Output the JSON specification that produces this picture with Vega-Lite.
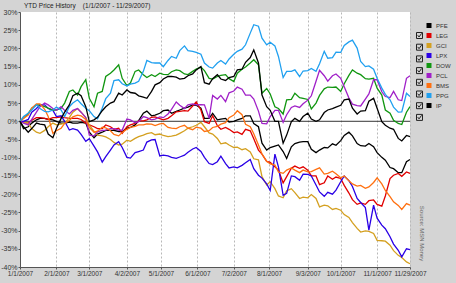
{
  "$schema": "https://vega.github.io/schema/vega-lite/v6.json",
  "width": 390,
  "height": 255,
  "autosize": {"type": "none"},
  "padding": {"left": 20, "top": 12, "right": 46, "bottom": 16},
  "background": "#d4d4d4",
  "config": {"view": {"fill": "white", "stroke": null}, "font": "Liberation Sans"},
  "title": {"text": "YTD Price History\u00a0\u00a0\u00a0\u00a0(1/1/2007 - 11/29/2007)", "anchor": "start", "frame": "group", "fontSize": 6.5, "fontWeight": "normal", "color": "#222222", "offset": 3, "dx": 4, "dy": 4},
  "datasets": {
    "prices": [
      {"date": "2007/01/01", "PFE": 0, "LEG": 0, "GCI": 0, "LPX": 0, "DOW": 0, "PCL": 0, "BMS": 0, "PPG": 0, "IP": 0},
      {"date": "2007/01/04", "PFE": -2.0, "LEG": -0.3, "GCI": -0.3, "LPX": 0.0, "DOW": 0.8, "PCL": -0.5, "BMS": 0.8, "PPG": 1.3, "IP": -1.5},
      {"date": "2007/01/08", "PFE": -1.5, "LEG": -0.5, "GCI": -0.5, "LPX": 0.5, "DOW": 2.2, "PCL": -1.0, "BMS": 1.7, "PPG": 2.2, "IP": -3.0},
      {"date": "2007/01/11", "PFE": -0.5, "LEG": 0.3, "GCI": -2.0, "LPX": 2.5, "DOW": 3.6, "PCL": 0.5, "BMS": 3.6, "PPG": 3.1, "IP": -2.0},
      {"date": "2007/01/15", "PFE": 0.4, "LEG": 1.0, "GCI": -3.0, "LPX": 3.5, "DOW": 4.5, "PCL": 2.5, "BMS": 4.8, "PPG": 4.5, "IP": -0.5},
      {"date": "2007/01/18", "PFE": 0.8, "LEG": 1.0, "GCI": -3.3, "LPX": 4.5, "DOW": 4.5, "PCL": 4.0, "BMS": 4.8, "PPG": 3.5, "IP": -0.8},
      {"date": "2007/01/22", "PFE": 0.8, "LEG": 0.8, "GCI": -2.5, "LPX": 4.5, "DOW": 4.0, "PCL": 5.0, "BMS": 3.3, "PPG": 2.7, "IP": -1.0},
      {"date": "2007/01/25", "PFE": 0.5, "LEG": 0.5, "GCI": -1.5, "LPX": 3.5, "DOW": 3.6, "PCL": 4.5, "BMS": 1.3, "PPG": 2.6, "IP": -3.5},
      {"date": "2007/01/29", "PFE": 0.4, "LEG": 1.0, "GCI": -0.5, "LPX": 3.0, "DOW": 3.1, "PCL": 3.5, "BMS": -3.3, "PPG": 3.1, "IP": -4.5},
      {"date": "2007/02/01", "PFE": 0.0, "LEG": 1.0, "GCI": -1.0, "LPX": 1.3, "DOW": 3.1, "PCL": 3.0, "BMS": -2.6, "PPG": 3.9, "IP": -2.0},
      {"date": "2007/02/05", "PFE": -0.5, "LEG": 1.2, "GCI": -0.8, "LPX": 1.5, "DOW": 3.6, "PCL": 4.0, "BMS": -1.9, "PPG": 3.1, "IP": 0.8},
      {"date": "2007/02/08", "PFE": -0.5, "LEG": 1.0, "GCI": -0.5, "LPX": 0.0, "DOW": 5.0, "PCL": 3.0, "BMS": -0.6, "PPG": 1.3, "IP": 2.5},
      {"date": "2007/02/12", "PFE": -0.2, "LEG": 0.8, "GCI": 1.0, "LPX": -2.4, "DOW": 8.2, "PCL": 2.0, "BMS": 0.2, "PPG": 4.0, "IP": 4.5},
      {"date": "2007/02/15", "PFE": -0.5, "LEG": 0.8, "GCI": 2.5, "LPX": -2.0, "DOW": 8.6, "PCL": 3.0, "BMS": 1.2, "PPG": 5.0, "IP": 7.0},
      {"date": "2007/02/19", "PFE": -0.5, "LEG": 0.8, "GCI": 3.5, "LPX": -2.4, "DOW": 7.2, "PCL": 3.5, "BMS": 1.7, "PPG": 5.9, "IP": 7.7},
      {"date": "2007/02/22", "PFE": -0.3, "LEG": 0.5, "GCI": 2.5, "LPX": -3.6, "DOW": 9.5, "PCL": 2.5, "BMS": 1.5, "PPG": 4.8, "IP": 7.0},
      {"date": "2007/02/26", "PFE": -0.5, "LEG": -0.5, "GCI": 1.0, "LPX": -5.5, "DOW": 11.4, "PCL": 1.0, "BMS": 0.5, "PPG": 3.6, "IP": 4.0},
      {"date": "2007/03/01", "PFE": -3.0, "LEG": -1.0, "GCI": -1.0, "LPX": -4.8, "DOW": 6.3, "PCL": -3.8, "BMS": -1.7, "PPG": 2.9, "IP": -0.1},
      {"date": "2007/03/05", "PFE": -4.5, "LEG": -1.5, "GCI": -2.8, "LPX": -6.8, "DOW": 4.0, "PCL": -4.0, "BMS": -3.0, "PPG": 1.3, "IP": 0.4},
      {"date": "2007/03/08", "PFE": -3.5, "LEG": -2.0, "GCI": -3.8, "LPX": -8.4, "DOW": 7.7, "PCL": -2.9, "BMS": -2.7, "PPG": 0.7, "IP": 1.1},
      {"date": "2007/03/12", "PFE": -3.0, "LEG": -2.0, "GCI": -4.0, "LPX": -11.2, "DOW": 8.2, "PCL": -2.5, "BMS": -1.6, "PPG": 3.6, "IP": 2.9},
      {"date": "2007/03/15", "PFE": -2.5, "LEG": -1.0, "GCI": -4.3, "LPX": -9.7, "DOW": 12.3, "PCL": -2.4, "BMS": -1.8, "PPG": 6.2, "IP": 4.0},
      {"date": "2007/03/19", "PFE": -2.5, "LEG": -1.5, "GCI": -5.0, "LPX": -7.9, "DOW": 13.2, "PCL": -2.0, "BMS": -2.6, "PPG": 7.7, "IP": 5.0},
      {"date": "2007/03/22", "PFE": -2.5, "LEG": -2.2, "GCI": -5.8, "LPX": -6.5, "DOW": 14.1, "PCL": -2.0, "BMS": -3.6, "PPG": 11.2, "IP": 5.4},
      {"date": "2007/03/26", "PFE": -2.8, "LEG": -1.9, "GCI": -6.5, "LPX": -5.6, "DOW": 15.5, "PCL": -2.4, "BMS": -4.0, "PPG": 11.4, "IP": 7.7},
      {"date": "2007/03/29", "PFE": -2.8, "LEG": -3.3, "GCI": -6.3, "LPX": -7.2, "DOW": 11.8, "PCL": -2.4, "BMS": -3.1, "PPG": 10.3, "IP": 7.2},
      {"date": "2007/04/02", "PFE": -1.9, "LEG": -1.5, "GCI": -5.2, "LPX": -9.9, "DOW": 9.8, "PCL": 0.6, "BMS": -2.2, "PPG": 9.7, "IP": 8.6},
      {"date": "2007/04/05", "PFE": -1.7, "LEG": -1.0, "GCI": -5.5, "LPX": -10.1, "DOW": 10.5, "PCL": 0.4, "BMS": -1.7, "PPG": 10.2, "IP": 7.9},
      {"date": "2007/04/09", "PFE": -1.0, "LEG": -0.6, "GCI": -4.7, "LPX": -8.6, "DOW": 13.7, "PCL": -0.4, "BMS": -1.4, "PPG": 10.5, "IP": 7.7},
      {"date": "2007/04/12", "PFE": 0.2, "LEG": 0.1, "GCI": -4.2, "LPX": -8.3, "DOW": 14.1, "PCL": -0.1, "BMS": -1.0, "PPG": 11.0, "IP": 7.0},
      {"date": "2007/04/16", "PFE": 2.2, "LEG": 0.1, "GCI": -3.8, "LPX": -7.9, "DOW": 12.8, "PCL": 1.3, "BMS": -1.0, "PPG": 13.7, "IP": 6.6},
      {"date": "2007/04/19", "PFE": 2.8, "LEG": 0.4, "GCI": -3.4, "LPX": -5.7, "DOW": 12.0, "PCL": 1.0, "BMS": -0.7, "PPG": 16.7, "IP": 6.3},
      {"date": "2007/04/23", "PFE": 1.5, "LEG": 1.1, "GCI": -3.1, "LPX": -5.1, "DOW": 12.8, "PCL": 0.4, "BMS": -0.8, "PPG": 16.1, "IP": 8.2},
      {"date": "2007/04/26", "PFE": 1.7, "LEG": 1.2, "GCI": -3.7, "LPX": -5.0, "DOW": 12.3, "PCL": 0.6, "BMS": -1.2, "PPG": 16.0, "IP": 10.0},
      {"date": "2007/04/30", "PFE": 2.2, "LEG": 0.7, "GCI": -3.5, "LPX": -9.5, "DOW": 13.2, "PCL": 1.2, "BMS": -0.7, "PPG": 16.0, "IP": 10.6},
      {"date": "2007/05/03", "PFE": 2.9, "LEG": 0.4, "GCI": -3.9, "LPX": -9.3, "DOW": 12.9, "PCL": 1.0, "BMS": -0.6, "PPG": 15.0, "IP": 11.6},
      {"date": "2007/05/07", "PFE": 3.1, "LEG": 0.8, "GCI": -4.2, "LPX": -9.5, "DOW": 12.8, "PCL": 2.0, "BMS": -1.7, "PPG": 16.7, "IP": 12.3},
      {"date": "2007/05/10", "PFE": 2.2, "LEG": 1.5, "GCI": -4.1, "LPX": -9.9, "DOW": 13.6, "PCL": 3.3, "BMS": -1.9, "PPG": 17.8, "IP": 12.3},
      {"date": "2007/05/14", "PFE": 2.7, "LEG": 2.6, "GCI": -3.8, "LPX": -10.2, "DOW": 14.1, "PCL": 5.3, "BMS": -2.0, "PPG": 17.3, "IP": 12.1},
      {"date": "2007/05/17", "PFE": 3.1, "LEG": 2.7, "GCI": -3.3, "LPX": -9.8, "DOW": 13.9, "PCL": 4.4, "BMS": -1.5, "PPG": 19.4, "IP": 11.6},
      {"date": "2007/05/21", "PFE": 3.6, "LEG": 2.9, "GCI": -2.6, "LPX": -9.3, "DOW": 13.0, "PCL": 3.5, "BMS": -1.1, "PPG": 20.7, "IP": 11.8},
      {"date": "2007/05/24", "PFE": 3.9, "LEG": 2.8, "GCI": -1.9, "LPX": -8.5, "DOW": 12.8, "PCL": 4.5, "BMS": -1.9, "PPG": 19.4, "IP": 12.5},
      {"date": "2007/05/28", "PFE": 4.5, "LEG": 4.2, "GCI": -1.5, "LPX": -7.6, "DOW": 13.7, "PCL": 4.8, "BMS": -2.3, "PPG": 19.2, "IP": 13.0},
      {"date": "2007/05/31", "PFE": 4.4, "LEG": 5.3, "GCI": -1.1, "LPX": -7.2, "DOW": 14.3, "PCL": 4.5, "BMS": -1.6, "PPG": 18.9, "IP": 14.1},
      {"date": "2007/06/04", "PFE": 3.6, "LEG": 3.1, "GCI": -0.3, "LPX": -8.3, "DOW": 14.9, "PCL": 4.6, "BMS": -1.9, "PPG": 18.4, "IP": 15.0},
      {"date": "2007/06/07", "PFE": 0.8, "LEG": -0.1, "GCI": -1.5, "LPX": -9.9, "DOW": 13.9, "PCL": 4.5, "BMS": -2.8, "PPG": 16.0, "IP": 10.6},
      {"date": "2007/06/11", "PFE": 0.8, "LEG": -0.6, "GCI": -3.2, "LPX": -11.6, "DOW": 11.8, "PCL": 0.8, "BMS": -2.6, "PPG": 14.9, "IP": 10.2},
      {"date": "2007/06/14", "PFE": 2.2, "LEG": 1.5, "GCI": -3.5, "LPX": -11.9, "DOW": 11.6, "PCL": 7.1, "BMS": -1.7, "PPG": 14.6, "IP": 11.7},
      {"date": "2007/06/18", "PFE": 0.4, "LEG": -1.2, "GCI": -4.7, "LPX": -11.1, "DOW": 12.3, "PCL": 6.1, "BMS": -1.4, "PPG": 16.0, "IP": 12.8},
      {"date": "2007/06/21", "PFE": 0.6, "LEG": -2.2, "GCI": -6.2, "LPX": -9.6, "DOW": 12.6, "PCL": 7.1, "BMS": -0.8, "PPG": 16.7, "IP": 11.6},
      {"date": "2007/06/25", "PFE": 0.8, "LEG": -1.7, "GCI": -5.9, "LPX": -11.6, "DOW": 12.8, "PCL": 5.4, "BMS": -0.4, "PPG": 15.7, "IP": 11.2},
      {"date": "2007/06/28", "PFE": -0.2, "LEG": -2.2, "GCI": -6.5, "LPX": -12.8, "DOW": 11.7, "PCL": 7.8, "BMS": 1.0, "PPG": 17.1, "IP": 12.0},
      {"date": "2007/07/02", "PFE": 0.0, "LEG": -3.1, "GCI": -7.2, "LPX": -12.5, "DOW": 10.9, "PCL": 8.3, "BMS": 1.7, "PPG": 18.4, "IP": 12.3},
      {"date": "2007/07/05", "PFE": 0.4, "LEG": -2.9, "GCI": -7.1, "LPX": -12.8, "DOW": 13.2, "PCL": 9.4, "BMS": 2.9, "PPG": 19.2, "IP": 14.1},
      {"date": "2007/07/09", "PFE": 0.8, "LEG": -3.6, "GCI": -7.8, "LPX": -12.1, "DOW": 14.3, "PCL": 8.8, "BMS": 1.8, "PPG": 19.8, "IP": 14.3},
      {"date": "2007/07/12", "PFE": 1.5, "LEG": -2.2, "GCI": -7.5, "LPX": -11.4, "DOW": 14.9, "PCL": 7.2, "BMS": -0.8, "PPG": 21.0, "IP": 16.2},
      {"date": "2007/07/16", "PFE": 1.5, "LEG": -2.6, "GCI": -8.4, "LPX": -10.5, "DOW": 16.0, "PCL": 7.2, "BMS": -1.5, "PPG": 24.2, "IP": 17.5},
      {"date": "2007/07/19", "PFE": -0.6, "LEG": -4.8, "GCI": -10.3, "LPX": -13.0, "DOW": 16.9, "PCL": 6.1, "BMS": -3.4, "PPG": 26.5, "IP": 19.6},
      {"date": "2007/07/23", "PFE": -1.5, "LEG": -7.9, "GCI": -10.6, "LPX": -14.8, "DOW": 15.5, "PCL": 2.8, "BMS": -6.5, "PPG": 26.1, "IP": 16.0},
      {"date": "2007/07/26", "PFE": -6.0, "LEG": -9.0, "GCI": -15.2, "LPX": -15.6, "DOW": 7.7, "PCL": -0.6, "BMS": -9.0, "PPG": 22.8, "IP": 7.2},
      {"date": "2007/07/30", "PFE": -7.9, "LEG": -11.0, "GCI": -17.5, "LPX": -17.2, "DOW": 9.0, "PCL": -0.7, "BMS": -11.0, "PPG": 21.0, "IP": 4.0},
      {"date": "2007/08/02", "PFE": -7.2, "LEG": -11.3, "GCI": -16.6, "LPX": -19.0, "DOW": 7.5, "PCL": 1.3, "BMS": -11.7, "PPG": 21.7, "IP": 3.0},
      {"date": "2007/08/06", "PFE": -6.8, "LEG": -12.5, "GCI": -18.5, "LPX": -9.0, "DOW": 4.0, "PCL": 3.0, "BMS": -12.0, "PPG": 20.7, "IP": 0.0},
      {"date": "2007/08/09", "PFE": -6.5, "LEG": -13.4, "GCI": -20.5, "LPX": -12.5, "DOW": 3.5, "PCL": 3.0, "BMS": -13.9, "PPG": 17.8, "IP": 0.0},
      {"date": "2007/08/13", "PFE": -8.3, "LEG": -16.9, "GCI": -21.0, "LPX": -20.3, "DOW": 2.0, "PCL": -0.3, "BMS": -14.3, "PPG": 12.0, "IP": -6.0},
      {"date": "2007/08/16", "PFE": -10.2, "LEG": -15.2, "GCI": -19.1, "LPX": -19.8, "DOW": 5.9, "PCL": 1.8, "BMS": -13.4, "PPG": 13.7, "IP": -3.8},
      {"date": "2007/08/20", "PFE": -7.0, "LEG": -12.9, "GCI": -18.5, "LPX": -15.0, "DOW": 6.0, "PCL": 3.8, "BMS": -12.8, "PPG": 13.7, "IP": -0.1},
      {"date": "2007/08/23", "PFE": -6.1, "LEG": -12.3, "GCI": -19.6, "LPX": -15.2, "DOW": 7.7, "PCL": 4.2, "BMS": -13.4, "PPG": 14.1, "IP": 0.8},
      {"date": "2007/08/27", "PFE": -5.7, "LEG": -12.9, "GCI": -21.2, "LPX": -16.2, "DOW": 6.5, "PCL": 3.8, "BMS": -14.1, "PPG": 12.3, "IP": 0.0},
      {"date": "2007/08/30", "PFE": -5.6, "LEG": -12.5, "GCI": -20.8, "LPX": -14.5, "DOW": 6.3, "PCL": 4.8, "BMS": -13.4, "PPG": 13.8, "IP": 1.3},
      {"date": "2007/09/03", "PFE": -5.6, "LEG": -13.4, "GCI": -21.0, "LPX": -14.6, "DOW": 6.0, "PCL": 5.8, "BMS": -13.9, "PPG": 13.9, "IP": 2.2},
      {"date": "2007/09/06", "PFE": -7.7, "LEG": -15.0, "GCI": -20.1, "LPX": -15.0, "DOW": 3.4, "PCL": 7.0, "BMS": -13.8, "PPG": 14.5, "IP": 0.6},
      {"date": "2007/09/10", "PFE": -8.6, "LEG": -15.0, "GCI": -21.2, "LPX": -17.5, "DOW": 5.0, "PCL": 11.0, "BMS": -13.2, "PPG": 13.7, "IP": 0.0},
      {"date": "2007/09/13", "PFE": -7.9, "LEG": -17.4, "GCI": -23.5, "LPX": -19.4, "DOW": 7.1, "PCL": 14.0, "BMS": -12.8, "PPG": 15.8, "IP": 0.4},
      {"date": "2007/09/17", "PFE": -7.2, "LEG": -16.9, "GCI": -23.0, "LPX": -20.6, "DOW": 8.9, "PCL": 12.5, "BMS": -14.5, "PPG": 19.2, "IP": 2.4},
      {"date": "2007/09/20", "PFE": -7.3, "LEG": -15.0, "GCI": -23.2, "LPX": -19.5, "DOW": 9.4, "PCL": 11.0, "BMS": -14.3, "PPG": 17.3, "IP": 3.1},
      {"date": "2007/09/24", "PFE": -6.2, "LEG": -15.9, "GCI": -24.2, "LPX": -20.0, "DOW": 9.3, "PCL": 12.5, "BMS": -13.7, "PPG": 17.5, "IP": 3.5},
      {"date": "2007/09/27", "PFE": -6.6, "LEG": -15.3, "GCI": -23.9, "LPX": -18.9, "DOW": 9.4, "PCL": 13.0, "BMS": -14.4, "PPG": 19.0, "IP": 3.9},
      {"date": "2007/10/01", "PFE": -5.3, "LEG": -15.7, "GCI": -24.4, "LPX": -16.6, "DOW": 8.2, "PCL": 11.8, "BMS": -15.5, "PPG": 18.9, "IP": 4.4},
      {"date": "2007/10/04", "PFE": -3.9, "LEG": -17.6, "GCI": -25.6, "LPX": -15.0, "DOW": 10.3, "PCL": 9.5, "BMS": -15.0, "PPG": 20.8, "IP": 5.9},
      {"date": "2007/10/08", "PFE": -3.0, "LEG": -19.7, "GCI": -26.4, "LPX": -16.3, "DOW": 12.6, "PCL": 6.4, "BMS": -16.3, "PPG": 21.8, "IP": 6.1},
      {"date": "2007/10/11", "PFE": -4.0, "LEG": -21.5, "GCI": -27.8, "LPX": -17.9, "DOW": 14.1, "PCL": 4.7, "BMS": -17.2, "PPG": 22.3, "IP": 3.6},
      {"date": "2007/10/15", "PFE": -6.1, "LEG": -22.8, "GCI": -29.4, "LPX": -21.2, "DOW": 13.2, "PCL": 4.3, "BMS": -17.8, "PPG": 20.1, "IP": 2.0},
      {"date": "2007/10/18", "PFE": -6.7, "LEG": -22.4, "GCI": -30.4, "LPX": -22.3, "DOW": 12.8, "PCL": 4.2, "BMS": -17.6, "PPG": 16.4, "IP": 2.8},
      {"date": "2007/10/22", "PFE": -6.8, "LEG": -22.8, "GCI": -30.1, "LPX": -23.7, "DOW": 11.7, "PCL": 6.1, "BMS": -18.4, "PPG": 15.0, "IP": 2.9},
      {"date": "2007/10/25", "PFE": -6.1, "LEG": -21.8, "GCI": -30.2, "LPX": -29.9, "DOW": 11.6, "PCL": 7.5, "BMS": -18.0, "PPG": 15.2, "IP": 5.5},
      {"date": "2007/10/29", "PFE": -7.0, "LEG": -21.6, "GCI": -30.8, "LPX": -23.0, "DOW": 11.8, "PCL": 11.4, "BMS": -16.8, "PPG": 14.3, "IP": 6.3},
      {"date": "2007/11/01", "PFE": -8.6, "LEG": -22.8, "GCI": -32.7, "LPX": -26.6, "DOW": 9.1, "PCL": 11.4, "BMS": -15.5, "PPG": 11.8, "IP": 3.6},
      {"date": "2007/11/05", "PFE": -9.9, "LEG": -23.3, "GCI": -32.8, "LPX": -28.5, "DOW": 7.2, "PCL": 8.1, "BMS": -17.2, "PPG": 9.1, "IP": -0.1},
      {"date": "2007/11/08", "PFE": -10.7, "LEG": -20.5, "GCI": -32.9, "LPX": -29.5, "DOW": 3.1, "PCL": 6.8, "BMS": -19.0, "PPG": 7.4, "IP": -1.1},
      {"date": "2007/11/12", "PFE": -12.7, "LEG": -15.7, "GCI": -34.0, "LPX": -31.7, "DOW": 2.2, "PCL": 6.5, "BMS": -20.7, "PPG": 5.9, "IP": -1.9},
      {"date": "2007/11/15", "PFE": -13.0, "LEG": -14.8, "GCI": -35.5, "LPX": -33.7, "DOW": 0.3, "PCL": 8.2, "BMS": -22.1, "PPG": 3.9, "IP": -2.2},
      {"date": "2007/11/19", "PFE": -14.1, "LEG": -14.3, "GCI": -36.8, "LPX": -35.4, "DOW": -0.6, "PCL": 5.9, "BMS": -23.1, "PPG": 2.5, "IP": -4.7},
      {"date": "2007/11/22", "PFE": -14.1, "LEG": -15.1, "GCI": -37.4, "LPX": -37.2, "DOW": -0.9, "PCL": 5.7, "BMS": -24.2, "PPG": 2.6, "IP": -5.4},
      {"date": "2007/11/26", "PFE": -11.1, "LEG": -13.9, "GCI": -38.6, "LPX": -35.0, "DOW": 2.5, "PCL": 11.8, "BMS": -22.6, "PPG": 7.7, "IP": -3.9},
      {"date": "2007/11/29", "PFE": -10.5, "LEG": -14.3, "GCI": -39.1, "LPX": -35.2, "DOW": 4.0, "PCL": 12.5, "BMS": -23.0, "PPG": 6.8, "IP": -4.2}
    ]
  },
  "layer": [
    {
      "data": {"values": [{}]},
      "mark": {"type": "rule", "color": "#333333", "strokeWidth": 1},
      "encoding": {"y": {"datum": 0, "type": "quantitative", "axis": null}}
    },
    {
      "data": {"name": "prices"},
      "transform": [{"fold": ["PFE", "LEG", "GCI", "LPX", "DOW", "PCL", "BMS", "PPG", "IP"], "as": ["series", "pct"]}],
      "mark": {"type": "line", "strokeWidth": 1.3},
      "encoding": {
        "x": {
          "field": "date", "type": "temporal",
          "scale": {"domain": [{"year": 2007, "month": 1, "date": 1}, {"year": 2007, "month": 11, "date": 29}]},
          "axis": {
            "title": null, "format": "%-m/%-d/%Y", "labelFontSize": 6.5, "labelColor": "#333333",
            "labelFlush": false, "labelOverlap": false, "labelPadding": 1, "tickSize": 2, "tickColor": "#555555",
            "domainColor": "#555555", "gridColor": "#b8b8b8", "gridDash": [2, 2],
            "values": [
              {"year": 2007, "month": 1, "date": 1}, {"year": 2007, "month": 2, "date": 1},
              {"year": 2007, "month": 3, "date": 1}, {"year": 2007, "month": 4, "date": 2},
              {"year": 2007, "month": 5, "date": 1}, {"year": 2007, "month": 6, "date": 1},
              {"year": 2007, "month": 7, "date": 2}, {"year": 2007, "month": 8, "date": 1},
              {"year": 2007, "month": 9, "date": 3}, {"year": 2007, "month": 10, "date": 1},
              {"year": 2007, "month": 11, "date": 1}, {"year": 2007, "month": 11, "date": 29}
            ]
          }
        },
        "y": {
          "field": "pct", "type": "quantitative",
          "scale": {"domain": [-40, 30]},
          "axis": {
            "orient": "left", "title": null, "values": [-40, -35, -30, -25, -20, -15, -10, -5, 0, 5, 10, 15, 20, 25, 30],
            "labelExpr": "datum.value + '%'", "labelFontSize": 7, "labelColor": "#333333", "labelPadding": 1,
            "tickSize": 2, "tickColor": "#555555", "domainColor": "#555555", "gridColor": "#b8b8b8", "gridWidth": 1
          }
        },
        "color": {
          "field": "series", "type": "nominal",
          "scale": {
            "domain": ["PFE", "LEG", "GCI", "LPX", "DOW", "PCL", "BMS", "PPG", "IP"],
            "range": ["#000000", "#e00000", "#d4a020", "#2a00e6", "#109610", "#a020c8", "#ff7010", "#20a0f0", "#000000"]
          },
          "legend": {
            "orient": "none", "legendX": 406, "legendY": 10.5, "title": null, "padding": 0,
            "symbolType": "square", "symbolSize": 25, "symbolStrokeWidth": 0, "symbolOpacity": 1,
            "labelFontSize": 6, "labelColor": "#333333", "labelOffset": 4, "rowPadding": 4,
            "encode": {"symbols": {"update": {"fill": {"scale": "color", "field": "value"}}}}
          }
        }
      }
    },
    {
      "data": {"values": [{"box": "LEG"}, {"box": "GCI"}, {"box": "LPX"}, {"box": "DOW"}, {"box": "PCL"}, {"box": "BMS"}, {"box": "PPG"}, {"box": "IP"}]},
      "mark": {"type": "point", "opacity": 0, "color": "#222222"},
      "encoding": {
        "shape": {
          "field": "box", "type": "nominal",
          "scale": {
            "domain": ["LEG", "GCI", "LPX", "DOW", "PCL", "BMS", "PPG", "IP"],
            "range": ["M-1,-1H1V1H-1Z M-0.6,-0.1L-0.15,0.5L0.7,-0.7", "M-1,-1H1V1H-1Z M-0.6,-0.1L-0.15,0.5L0.7,-0.7", "M-1,-1H1V1H-1Z M-0.6,-0.1L-0.15,0.5L0.7,-0.7", "M-1,-1H1V1H-1Z M-0.6,-0.1L-0.15,0.5L0.7,-0.7", "M-1,-1H1V1H-1Z M-0.6,-0.1L-0.15,0.5L0.7,-0.7", "M-1,-1H1V1H-1Z M-0.6,-0.1L-0.15,0.5L0.7,-0.7", "M-1,-1H1V1H-1Z M-0.6,-0.1L-0.15,0.5L0.7,-0.7", "M-1,-1H1V1H-1Z M-0.6,-0.1L-0.15,0.5L0.7,-0.7"]
          },
          "legend": {
            "orient": "none", "legendX": 396, "legendY": 20, "title": null, "padding": 0,
            "symbolSize": 36, "symbolStrokeWidth": 1, "symbolStrokeColor": "#222222", "symbolFillColor": "white", "symbolOpacity": 1,
            "labelFontSize": 6, "labelExpr": "''", "labelOffset": 0, "rowPadding": 0.7
          }
        },
        "y": {
          "datum": 0, "type": "quantitative",
          "axis": {
            "orient": "right", "title": "Source: MSN Money", "labels": false, "ticks": false, "domain": false, "grid": false,
            "titleAngle": 90, "titleFontSize": 6, "titleFontWeight": "normal", "titleColor": "#666666",
            "titleX": 11, "titleY": 221, "titleAlign": "center", "titleBaseline": "middle"
          }
        }
      }
    }
  ],
  "resolve": {"axis": {"y": "independent"}}
}
